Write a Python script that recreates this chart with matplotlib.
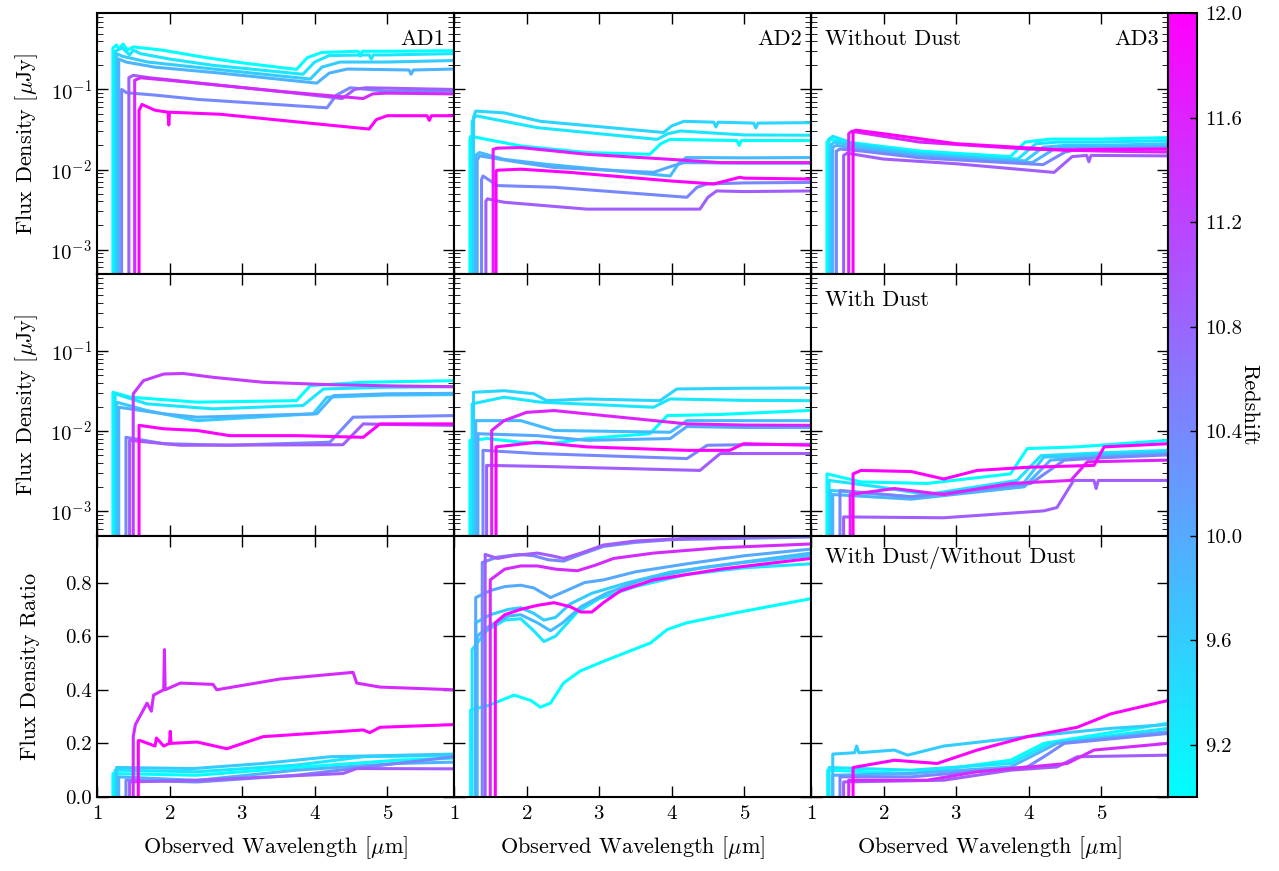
import numpy as np
import matplotlib
import matplotlib.pyplot as plt
from matplotlib import colors

plt.rcParams.update({
    'font.family': ['cmr10', 'DejaVu Serif'],
    'mathtext.fontset': 'cm',
    'axes.formatter.use_mathtext': True,
    'axes.linewidth': 1.5,
    'xtick.direction': 'in', 'ytick.direction': 'in',
    'xtick.top': True, 'ytick.right': True,
    'xtick.major.size': 8, 'ytick.major.size': 8,
    'xtick.minor.size': 4, 'ytick.minor.size': 4,
    'xtick.major.width': 1, 'ytick.major.width': 1,
    'xtick.labelsize': 15, 'ytick.labelsize': 15,
})

# each line: (redshift, wavelength knots [um], value knots)
ad1_nodust = [
    (9.0, [1.22, 1.27, 1.3, 1.36, 1.42, 1.5, 1.9, 2.5, 3.0, 3.75, 3.9, 4.1, 4.6, 4.63, 4.66, 5.0, 5.92],
          [0.33, 0.36, 0.32, 0.37, 0.31, 0.34, 0.31, 0.25, 0.215, 0.178, 0.25, 0.29, 0.30, 0.26, 0.30, 0.30, 0.305]),
    (9.3, [1.25, 1.35, 1.45, 1.5, 1.6, 2.0, 2.6, 3.84, 4.0, 4.2, 4.75, 4.78, 4.81, 5.0, 5.92],
          [0.30, 0.33, 0.27, 0.31, 0.28, 0.24, 0.2, 0.155, 0.22, 0.265, 0.27, 0.24, 0.27, 0.27, 0.28]),
    (9.6, [1.27, 1.35, 1.7, 2.6, 3.94, 4.1, 4.35, 5.0, 5.92],
          [0.28, 0.26, 0.22, 0.18, 0.135, 0.19, 0.22, 0.22, 0.23]),
    (9.9, [1.3, 1.4, 1.8, 2.7, 4.03, 4.2, 4.45, 5.3, 5.33, 5.36, 5.92],
          [0.24, 0.22, 0.19, 0.16, 0.12, 0.16, 0.18, 0.175, 0.155, 0.175, 0.18]),
    (10.4, [1.34, 1.41, 1.8, 2.4, 4.17, 4.3, 4.49, 5.0, 5.92],
           [0.10, 0.091, 0.085, 0.075, 0.059, 0.085, 0.105, 0.095, 0.095]),
    (10.9, [1.44, 1.5, 1.73, 2.6, 3.5, 4.38, 4.55, 4.7, 5.92],
           [0.14, 0.15, 0.14, 0.115, 0.095, 0.077, 0.1, 0.105, 0.1]),
    (11.5, [1.52, 1.6, 2.0, 2.6, 3.5, 4.67, 4.8, 5.0, 5.92],
           [0.13, 0.14, 0.13, 0.115, 0.095, 0.077, 0.088, 0.09, 0.088]),
    (12.0, [1.58, 1.62, 1.8, 1.98, 1.99, 2.0, 2.7, 4.75, 4.85, 5.0, 5.55, 5.58, 5.61, 5.92],
           [0.055, 0.065, 0.055, 0.052, 0.036, 0.052, 0.049, 0.032, 0.042, 0.047, 0.047, 0.041, 0.047, 0.047]),
]

ad2_nodust = [
    (9.0, [1.22, 1.23, 1.92, 2.83, 3.7, 3.85, 3.98, 4.9, 4.93, 4.96, 5.92],
          [0.024, 0.026, 0.0197, 0.0163, 0.0155, 0.021, 0.0238, 0.023, 0.020, 0.023, 0.023]),
    (9.3, [1.25, 1.3, 1.46, 2.15, 3.8, 3.95, 4.12, 5.0, 5.92],
          [0.04, 0.047, 0.044, 0.0333, 0.0238, 0.028, 0.0303, 0.027, 0.0268]),
    (9.5, [1.27, 1.3, 1.69, 2.19, 3.89, 4.0, 4.17, 4.58, 4.61, 4.64, 5.13, 5.16, 5.19, 5.92],
          [0.045, 0.0537, 0.051, 0.040, 0.029, 0.035, 0.040, 0.039, 0.034, 0.039, 0.038, 0.033, 0.038, 0.0385]),
    (9.8, [1.3, 1.35, 1.69, 2.28, 3.98, 4.1, 4.2, 5.0, 5.92],
          [0.015, 0.0163, 0.0134, 0.0116, 0.0083, 0.012, 0.0141, 0.014, 0.0141]),
    (10.0, [1.32, 1.35, 1.92, 2.38, 3.75, 4.0, 4.17, 5.0, 5.92],
           [0.013, 0.0148, 0.0122, 0.0106, 0.0092, 0.011, 0.0122, 0.012, 0.012]),
    (10.4, [1.38, 1.4, 1.6, 2.38, 4.21, 4.35, 4.49, 5.0, 5.92],
           [0.0075, 0.0083, 0.0063, 0.006, 0.0045, 0.006, 0.0066, 0.0068, 0.0069]),
    (10.9, [1.44, 1.46, 1.69, 2.83, 4.39, 4.5, 4.62, 5.0, 5.92],
           [0.004, 0.0043, 0.0039, 0.0032, 0.0032, 0.0045, 0.0054, 0.0053, 0.0054]),
    (11.7, [1.54, 1.6, 1.92, 2.83, 3.98, 4.67, 5.92],
           [0.0179, 0.0185, 0.0188, 0.0155, 0.0134, 0.0122, 0.0122]),
    (12.0, [1.58, 1.6, 1.92, 2.6, 3.98, 4.58, 4.94, 5.0, 5.92],
           [0.0096, 0.0098, 0.0101, 0.0092, 0.0072, 0.0066, 0.008, 0.0078, 0.0076]),
]

ad3_nodust = [
    (9.0, [1.22, 1.25, 1.5, 2.5, 3.75, 3.95, 4.3, 5.0, 5.92],
          [0.022, 0.024, 0.022, 0.017, 0.0145, 0.022, 0.024, 0.024, 0.025]),
    (9.3, [1.25, 1.3, 1.6, 2.5, 3.85, 4.1, 4.4, 5.0, 5.92],
          [0.024, 0.026, 0.021, 0.016, 0.0135, 0.021, 0.022, 0.022, 0.023]),
    (9.6, [1.27, 1.32, 1.6, 2.5, 3.95, 4.2, 4.5, 5.0, 5.92],
          [0.02, 0.022, 0.02, 0.0155, 0.0128, 0.019, 0.02, 0.02, 0.021]),
    (9.9, [1.3, 1.35, 1.7, 2.5, 4.05, 4.35, 4.6, 5.0, 5.92],
          [0.019, 0.02, 0.018, 0.0148, 0.0122, 0.018, 0.019, 0.019, 0.0195]),
    (10.4, [1.35, 1.4, 1.7, 2.5, 4.2, 4.5, 4.7, 5.0, 5.92],
           [0.017, 0.018, 0.017, 0.014, 0.0115, 0.0165, 0.018, 0.018, 0.0185]),
    (10.9, [1.45, 1.5, 2.0, 3.0, 4.35, 4.6, 4.8, 4.83, 4.86, 5.92],
           [0.015, 0.016, 0.0135, 0.0118, 0.0092, 0.0145, 0.015, 0.0125, 0.015, 0.0148]),
    (11.6, [1.52, 1.56, 2.5, 4.0, 5.0, 5.92],
           [0.028, 0.03, 0.022, 0.018, 0.017, 0.0165]),
    (12.0, [1.58, 1.62, 2.0, 3.0, 4.5, 5.0, 5.92],
           [0.03, 0.031, 0.028, 0.021, 0.0175, 0.0178, 0.018]),
]

ad1_dust = [
    (9.0, [1.22, 1.46, 2.38, 3.75, 3.94, 4.67, 5.92],
          [0.0303, 0.0263, 0.0228, 0.0238, 0.0367, 0.0404, 0.0423]),
    (9.3, [1.25, 1.69, 2.6, 3.84, 4.12, 5.0, 5.92],
          [0.029, 0.0217, 0.0188, 0.0207, 0.0333, 0.035, 0.0356]),
    (9.6, [1.27, 1.69, 2.38, 3.98, 4.17, 5.0, 5.92],
          [0.0228, 0.0179, 0.0134, 0.0163, 0.0263, 0.028, 0.0283]),
    (9.9, [1.3, 1.92, 2.38, 4.03, 4.26, 5.0, 5.92],
          [0.0197, 0.0163, 0.0148, 0.0163, 0.0275, 0.029, 0.0294]),
    (10.4, [1.4, 1.92, 2.83, 4.21, 4.53, 5.0, 5.92],
           [0.0083, 0.0069, 0.0066, 0.0072, 0.0148, 0.015, 0.0155]),
    (10.9, [1.45, 2.15, 4.39, 4.67, 5.0, 5.92],
           [0.0076, 0.0066, 0.0067, 0.0122, 0.012, 0.0117]),
    (11.3, [1.5, 1.64, 1.92, 2.19, 2.6, 3.29, 4.21, 5.13, 5.92],
           [0.029, 0.0423, 0.0512, 0.052, 0.0466, 0.0404, 0.0377, 0.0363, 0.0356]),
    (12.0, [1.58, 1.92, 2.38, 2.83, 3.75, 4.67, 4.9, 5.92],
           [0.0117, 0.0106, 0.0101, 0.0087, 0.0087, 0.0083, 0.0122, 0.0122]),
]

ad2_dust = [
    (9.0, [1.22, 1.46, 1.92, 2.33, 2.83, 3.7, 3.94, 4.67, 5.92],
          [0.0076, 0.008, 0.0072, 0.0069, 0.008, 0.0092, 0.0155, 0.016, 0.018]),
    (9.3, [1.25, 1.69, 2.19, 3.75, 3.98, 5.0, 5.92],
          [0.0217, 0.0263, 0.0228, 0.0197, 0.025, 0.024, 0.0238]),
    (9.5, [1.27, 1.69, 2.1, 2.28, 2.83, 3.84, 4.07, 5.0, 5.92],
          [0.0303, 0.0317, 0.029, 0.0238, 0.025, 0.0238, 0.0333, 0.034, 0.0343]),
    (9.8, [1.3, 1.92, 2.38, 3.98, 4.21, 5.0, 5.92],
          [0.0134, 0.0134, 0.0101, 0.0096, 0.0134, 0.0134, 0.0134]),
    (10.0, [1.33, 2.15, 2.83, 3.98, 4.21, 5.0, 5.92],
           [0.0092, 0.0087, 0.0076, 0.008, 0.0113, 0.011, 0.011]),
    (10.4, [1.4, 2.15, 4.21, 4.49, 5.0, 5.92],
           [0.0057, 0.0052, 0.0045, 0.0066, 0.0067, 0.0068]),
    (10.9, [1.45, 2.15, 4.39, 4.67, 5.0, 5.92],
           [0.0037, 0.0036, 0.0032, 0.0052, 0.0052, 0.0052]),
    (11.6, [1.52, 1.69, 2.0, 2.38, 3.29, 4.21, 5.0, 5.92],
           [0.0101, 0.0134, 0.017, 0.0179, 0.0148, 0.0122, 0.0118, 0.0117]),
    (12.0, [1.58, 2.15, 2.83, 4.21, 4.8, 4.99, 5.92],
           [0.0063, 0.0072, 0.0063, 0.0057, 0.0057, 0.0069, 0.0066]),
]

ad3_dust = [
    (9.0, [1.22, 1.69, 2.6, 3.75, 3.98, 4.67, 5.92],
          [0.0029, 0.0023, 0.0022, 0.0029, 0.006, 0.0063, 0.0076]),
    (9.3, [1.25, 1.92, 2.6, 3.84, 4.17, 5.0, 5.92],
          [0.0024, 0.002, 0.0016, 0.0024, 0.0049, 0.0053, 0.0057]),
    (9.6, [1.27, 2.38, 3.89, 4.21, 5.0, 5.92],
          [0.0018, 0.0015, 0.002, 0.0047, 0.005, 0.0054]),
    (9.9, [1.3, 2.38, 3.94, 4.3, 5.0, 5.92],
          [0.0016, 0.0014, 0.002, 0.0043, 0.0048, 0.0052]),
    (10.4, [1.4, 2.38, 4.03, 4.49, 5.0, 5.92],
           [0.0018, 0.0015, 0.0022, 0.0043, 0.0046, 0.005]),
    (10.9, [1.45, 2.83, 4.21, 4.39, 4.62, 4.9, 4.93, 4.96, 5.92],
           [0.00084, 0.00082, 0.001, 0.0011, 0.0024, 0.0024, 0.0019, 0.0024, 0.0024]),
    (11.6, [1.54, 2.15, 2.83, 3.75, 4.58, 4.81, 5.92],
           [0.0016, 0.0019, 0.0016, 0.0022, 0.0024, 0.0041, 0.0043]),
    (12.0, [1.58, 1.69, 2.38, 2.83, 3.29, 3.98, 4.9, 5.04, 5.92],
           [0.0029, 0.0032, 0.0031, 0.0025, 0.0032, 0.0035, 0.0037, 0.0063, 0.0069]),
]

ad1_ratio = [
    (9.0, [1.22, 2.38, 3.75, 5.13, 5.92], [0.0875, 0.081, 0.11, 0.137, 0.145]),
    (9.3, [1.25, 2.38, 3.75, 4.67, 5.92], [0.10, 0.094, 0.119, 0.15, 0.155]),
    (9.6, [1.27, 2.33, 3.29, 4.21, 5.92], [0.11, 0.106, 0.125, 0.15, 0.16]),
    (9.9, [1.3, 2.38, 3.75, 5.13, 5.92], [0.075, 0.062, 0.10, 0.125, 0.13]),
    (10.4, [1.4, 2.38, 3.75, 5.13, 5.92], [0.0625, 0.056, 0.081, 0.125, 0.15]),
    (10.9, [1.45, 2.38, 4.39, 4.58, 5.92], [0.056, 0.0625, 0.0875, 0.106, 0.105]),
    (11.5, [1.5, 1.53, 1.69, 1.75, 1.78, 1.92, 1.93, 1.94, 2.15, 2.6, 2.65, 3.52, 4.53, 4.58, 4.9, 5.92],
           [0.225, 0.27, 0.35, 0.32, 0.38, 0.40, 0.55, 0.40, 0.425, 0.42, 0.40, 0.44, 0.465, 0.425, 0.41, 0.40]),
    (12.0, [1.57, 1.6, 1.8, 1.82, 1.92, 2.0, 2.01, 2.02, 2.38, 2.79, 3.29, 4.67, 4.76, 4.9, 5.92],
           [0.21, 0.21, 0.19, 0.22, 0.19, 0.2, 0.245, 0.2, 0.205, 0.18, 0.225, 0.25, 0.24, 0.26, 0.27]),
]

ad2_ratio = [
    (9.0, [1.23, 1.46, 1.83, 2.06, 2.19, 2.33, 2.51, 2.74, 3.06, 3.71, 3.94, 4.21, 4.94, 5.92],
          [0.325, 0.34, 0.38, 0.36, 0.335, 0.35, 0.425, 0.47, 0.506, 0.575, 0.625, 0.65, 0.69, 0.74]),
    (9.3, [1.25, 1.45, 1.7, 1.92, 2.1, 2.24, 2.4, 2.7, 3.0, 3.5, 4.2, 5.0, 5.92],
          [0.55, 0.62, 0.66, 0.665, 0.62, 0.58, 0.60, 0.69, 0.74, 0.785, 0.83, 0.855, 0.87]),
    (9.6, [1.3, 1.5, 1.75, 1.92, 2.1, 2.24, 2.4, 2.6, 2.9, 3.4, 4.0, 5.0, 5.92],
          [0.65, 0.68, 0.70, 0.706, 0.685, 0.66, 0.67, 0.72, 0.76, 0.80, 0.84, 0.875, 0.90]),
    (9.8, [1.32, 1.5, 1.75, 1.92, 2.15, 2.33, 2.5, 2.75, 3.1, 3.6, 4.4, 5.92],
          [0.60, 0.64, 0.675, 0.68, 0.65, 0.62, 0.65, 0.71, 0.76, 0.81, 0.855, 0.91]),
    (10.0, [1.3, 1.5, 1.7, 1.92, 2.1, 2.33, 2.55, 2.8, 3.06, 3.5, 4.21, 5.0, 5.92],
           [0.744, 0.77, 0.785, 0.79, 0.78, 0.744, 0.77, 0.80, 0.81, 0.84, 0.87, 0.90, 0.925]),
    (10.4, [1.39, 1.6, 1.9, 2.1, 2.3, 2.51, 2.75, 3.06, 3.5, 4.0, 5.92],
           [0.875, 0.895, 0.905, 0.90, 0.885, 0.88, 0.905, 0.935, 0.95, 0.96, 0.97]),
    (10.9, [1.43, 1.6, 1.8, 2.15, 2.35, 2.51, 2.75, 3.06, 3.5, 4.2, 5.92],
           [0.905, 0.89, 0.90, 0.91, 0.90, 0.89, 0.91, 0.94, 0.955, 0.965, 0.975]),
    (11.5, [1.5, 1.7, 1.92, 2.15, 2.4, 2.7, 2.95, 3.2, 3.75, 4.67, 5.92],
           [0.81, 0.85, 0.862, 0.862, 0.85, 0.844, 0.865, 0.89, 0.91, 0.93, 0.944]),
    (12.0, [1.57, 1.7, 1.92, 2.15, 2.38, 2.6, 2.75, 2.9, 3.06, 3.3, 3.75, 4.67, 5.92],
           [0.65, 0.68, 0.70, 0.715, 0.725, 0.71, 0.69, 0.69, 0.725, 0.77, 0.81, 0.85, 0.89]),
]

ad3_ratio = [
    (9.0, [1.23, 2.38, 3.75, 4.21, 5.92], [0.10, 0.0875, 0.137, 0.20, 0.275]),
    (9.3, [1.25, 2.38, 3.75, 4.3, 5.92], [0.11, 0.10, 0.125, 0.2, 0.256]),
    (9.6, [1.3, 1.6, 1.63, 1.66, 2.15, 2.33, 2.83, 3.98, 5.13, 5.92],
          [0.16, 0.165, 0.19, 0.165, 0.175, 0.156, 0.19, 0.225, 0.256, 0.27]),
    (9.9, [1.3, 2.38, 3.75, 4.39, 5.92], [0.081, 0.0875, 0.112, 0.2, 0.244]),
    (10.4, [1.4, 2.38, 3.98, 4.21, 4.49, 5.92], [0.075, 0.075, 0.112, 0.15, 0.2, 0.237]),
    (10.9, [1.45, 2.83, 3.75, 4.39, 4.67, 5.92], [0.056, 0.0625, 0.10, 0.112, 0.15, 0.156]),
    (11.5, [1.52, 2.6, 3.29, 4.53, 4.9, 5.92], [0.0625, 0.0625, 0.094, 0.125, 0.175, 0.20]),
    (12.0, [1.58, 2.15, 2.74, 3.29, 3.98, 4.67, 5.13, 5.92],
           [0.11, 0.137, 0.125, 0.175, 0.225, 0.26, 0.31, 0.36]),
]

panels = [[ad1_nodust, ad2_nodust, ad3_nodust],
          [ad1_dust, ad2_dust, ad3_dust],
          [ad1_ratio, ad2_ratio, ad3_ratio]]

cmap = plt.get_cmap('cool')
norm = colors.Normalize(vmin=9.0, vmax=12.0)

fig, axes = plt.subplots(3, 3, figsize=(12.79, 8.71), dpi=100)
fig.subplots_adjust(left=0.0758, right=0.9132, top=0.985, bottom=0.085,
                    wspace=0, hspace=0)

for r in range(3):
    for c in range(3):
        ax = axes[r, c]
        floor = 0.0 if r == 2 else 1e-5
        for z, xs, ys in panels[r][c]:
            ax.plot([xs[0]] + xs, [floor] + ys, color=cmap(norm(z)), lw=2.2)
        ax.set_xlim(1, 5.92)
        if r < 2:
            ax.set_yscale('log')
            ax.set_ylim(4.9e-4, 0.9)
        else:
            ax.set_ylim(0, 0.975)
            ax.set_yticks([0.0, 0.2, 0.4, 0.6, 0.8])
            ax.yaxis.set_major_formatter(matplotlib.ticker.FormatStrFormatter('%.1f'))
            ax.set_xlabel(r'Observed Wavelength [$\mu$m]', fontsize=16, labelpad=8)
        ax.set_xticks([1, 2, 3, 4, 5])
        if r < 2:
            ax.tick_params(labelbottom=False)
        if c > 0:
            ax.tick_params(labelleft=False)
        ax.tick_params(which='both', top=True, right=True)
        ax.tick_params(axis='x', pad=6)

axes[0, 0].set_ylabel(r'Flux Density [$\mu$Jy]', fontsize=16)
axes[1, 0].set_ylabel(r'Flux Density [$\mu$Jy]', fontsize=16)
axes[2, 0].set_ylabel('Flux Density Ratio', fontsize=16)
for ax in axes[:, 0]:
    ax.yaxis.set_label_coords(-0.16, 0.5)

for c, name in enumerate(['AD1', 'AD2', 'AD3']):
    axes[0, c].text(0.975, 0.9, name, transform=axes[0, c].transAxes,
                    ha='right', va='center', fontsize=16)
axes[0, 2].text(0.04, 0.9, 'Without Dust', transform=axes[0, 2].transAxes,
                ha='left', va='center', fontsize=16)
axes[1, 2].text(0.04, 0.9, 'With Dust', transform=axes[1, 2].transAxes,
                ha='left', va='center', fontsize=16)
axes[2, 2].text(0.04, 0.915, 'With Dust/Without Dust', transform=axes[2, 2].transAxes,
                ha='left', va='center', fontsize=16)

cax = fig.add_axes([0.9132, 0.085, 0.0227, 0.9])
sm = matplotlib.cm.ScalarMappable(norm=norm, cmap=cmap)
cb = fig.colorbar(sm, cax=cax)
cb.set_ticks([9.2, 9.6, 10.0, 10.4, 10.8, 11.2, 11.6, 12.0])
cb.ax.yaxis.set_major_formatter(matplotlib.ticker.FormatStrFormatter('%.1f'))
cb.ax.tick_params(direction='in', length=5, labelsize=15, pad=6)
cb.outline.set_linewidth(1.5)
cb.set_label('Redshift', rotation=270, fontsize=16, labelpad=12)

fig.savefig('out.png', dpi=100)
